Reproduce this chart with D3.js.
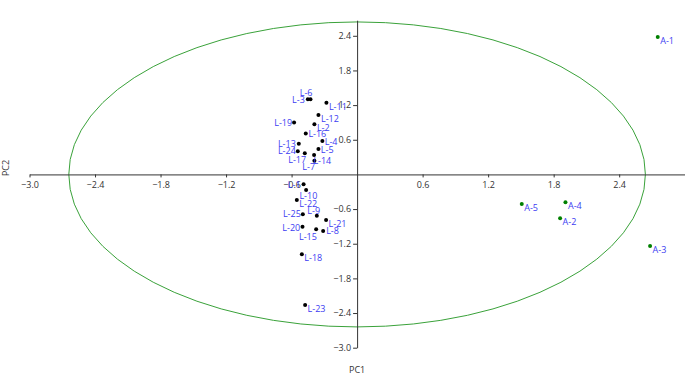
<html>
<head>
<meta charset="utf-8">
<title>PCA scores</title>
<script src="https://d3js.org/d3.v7.min.js"></script>
<style>
  body { margin: 0; background: #fff; }
  text { font-family: "Open Sans", sans-serif; }
</style>
</head>
<body>
<svg width="685" height="375"></svg>
<script>
// sample names and their scores on the first two components
var names = ["L-1","L-2","L-3","L-4","L-5","L-6","L-7","L-8","L-9","L-10",
             "L-11","L-12","L-13","L-14","L-15","L-16","L-17","L-18","L-19","L-20",
             "L-21","L-22","L-23","L-24","L-25","A-1","A-2","A-3","A-4","A-5"];
var pc1 = [-0.49,-0.391,-0.451,-0.318,-0.354,-0.427,-0.391,-0.311,-0.369,-0.467,
           -0.281,-0.354,-0.534,-0.394,-0.375,-0.47,-0.479,-0.506,-0.577,-0.50,
           -0.284,-0.552,-0.476,-0.543,-0.497,2.753,1.859,2.683,1.908,1.508];
var pc2 = [-0.17,0.87,1.30,0.58,0.44,1.30,0.237,-0.98,-0.714,-0.27,
           1.24,1.03,0.53,0.336,-0.95,0.71,0.365,-1.38,0.90,-0.905,
           -0.79,-0.443,-2.26,0.40,-0.69,2.38,-0.76,-1.24,-0.483,-0.512];
var xTicks = [-3.0,-2.4,-1.8,-1.2,-0.6,0.6,1.2,1.8,2.4];
var yTicks = [-3.0,-2.4,-1.8,-1.2,-0.6,0.6,1.2,1.8,2.4];
var ellipseR = [2.64, 2.64]; // confidence ellipse radii (PC1, PC2)

// label placement tweaks where the labels would collide
var labelPos = {
  "L-6": ["end", 2, -3], "L-3": ["end", -3, 4], "L-19": ["end", -2, 4],
  "L-16": ["start", 2.6, 4], "L-4": ["start", 2.4, 3.6], "L-13": ["end", -3, 3],
  "L-5": ["start", 2.4, 3.7], "L-24": ["end", -2, 3], "L-17": ["end", 1.3, 9.4],
  "L-14": ["start", -0.7, 9], "L-7": ["end", 0.7, 9.3], "L-1": ["end", -3, 4],
  "L-10": ["start", -6.7, 9.3], "L-25": ["end", -2, 3], "L-9": ["end", 3.3, -1.7],
  "L-20": ["end", -2.3, 4], "L-15": ["end", 0.7, 10.7], "L-8": ["start", 3, 3.3]
};

var data = names.map(function(n, i){ return {name: n, x: pc1[i], y: pc2[i]}; });

var svg = d3.select("svg");
var x = d3.scaleLinear().domain([-3, 3]).range([29.5, 684.7]);
var y = d3.scaleLinear().domain([-3, 2.67]).range([347.7, 20.2]);

svg.append("ellipse")
  .attr("cx", x(0)).attr("cy", y(0))
  .attr("rx", x(ellipseR[0]) - x(0))
  .attr("ry", y(0) - y(ellipseR[1]))
  .attr("fill", "none")
  .attr("stroke", "#3aa23a")
  .attr("stroke-width", 1);

var fmt = d3.format(".1f");

var gx = svg.append("g")
  .attr("transform", "translate(0," + y(0) + ")")
  .call(d3.axisBottom(x).tickValues(xTicks).tickFormat(fmt).tickSizeInner(3).tickSizeOuter(0).tickPadding(4));

var gy = svg.append("g")
  .attr("transform", "translate(" + x(0) + ",0)")
  .call(d3.axisLeft(y).tickValues(yTicks).tickFormat(fmt).tickSizeInner(4).tickSizeOuter(0).tickPadding(2));

[gx, gy].forEach(function(g){
  g.select(".domain").attr("stroke", "#333");
  g.selectAll(".tick line").attr("stroke", "#333");
  g.selectAll(".tick text").attr("fill", "#333").style("font-size", "9px").style("font-family", "'Open Sans', sans-serif");
});

svg.append("text")
  .attr("x", x(0)).attr("y", 373)
  .attr("text-anchor", "middle")
  .attr("fill", "#333")
  .style("font-size", "9px")
  .text("PC1");

svg.append("text")
  .attr("transform", "translate(9,168) rotate(-90)")
  .attr("text-anchor", "middle")
  .attr("fill", "#333")
  .style("font-size", "9px")
  .text("PC2");

var pts = svg.append("g").selectAll("g")
  .data(data)
  .enter().append("g");

pts.append("circle")
  .attr("cx", function(d){ return x(d.x); })
  .attr("cy", function(d){ return y(d.y); })
  .attr("r", 2)
  .attr("fill", function(d){ return d.name[0] == "A" ? "#008000" : "#000"; });

pts.append("text")
  .attr("x", function(d){ var p = labelPos[d.name] || ["start", 2.5, 7]; return x(d.x) + p[1]; })
  .attr("y", function(d){ var p = labelPos[d.name] || ["start", 2.5, 7]; return y(d.y) + p[2]; })
  .attr("text-anchor", function(d){ var p = labelPos[d.name] || ["start", 2.5, 7]; return p[0]; })
  .attr("fill", "#3c3cf2")
  .style("font-size", "9px")
  .text(function(d){ return d.name; });
</script>
</body>
</html>
